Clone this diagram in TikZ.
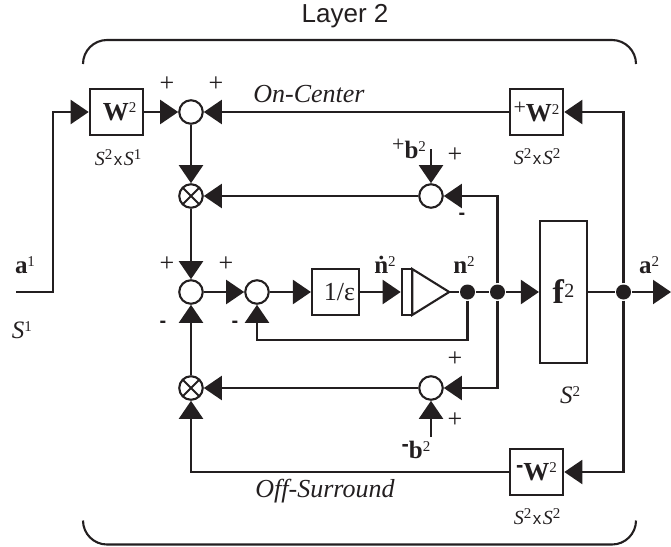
\documentclass[tikz,border=0pt]{standalone}
\usepackage{fontspec}
\setmainfont{Liberation Serif}
\setsansfont{Liberation Sans}
\usetikzlibrary{arrows.meta,shapes.geometric}
\definecolor{Ink}{HTML}{231F20}
\newcommand{\Sp}[1]{\raisebox{.3em}{\fontsize{15}{15}\selectfont #1}}
\newcommand{\Pre}[1]{\raisebox{.3em}{\fontsize{22}{22}\selectfont #1}}
\newcommand{\Dim}[2]{{\itshape S}\Sp{#1}\hspace{1.5pt}{\sffamily\fontsize{17}{17}\selectfont x}\hspace{1.5pt}{\itshape S}\Sp{#2}}
\begin{document}
\begin{tikzpicture}[x=1pt,y=-1pt,line width=2.1pt,draw=Ink,text=Ink,
    sumnode/.style={draw,circle,minimum size=23.5pt,inner sep=0pt},
    prodnode/.style={sumnode,path picture={\draw (path picture bounding box.north west) -- (path picture bounding box.south east) (path picture bounding box.north east) -- (path picture bounding box.south west);}},
    dotnode/.style={fill=Ink,circle,minimum size=15pt,inner sep=0pt},
    unit/.style={draw,minimum width=53.5pt,minimum height=46pt,inner sep=0pt,font=\fontsize{26}{28}\selectfont},
    arr/.style={-{Triangle[length=18pt,width=24pt]}},
    lab/.style={inner sep=0pt,font=\fontsize{25}{28}\selectfont},
    dimlab/.style={inner sep=0pt,font=\fontsize{20}{24}\selectfont},
    sign/.style={inner sep=0pt,font=\fontsize{26}{28}\selectfont},
    minus/.style={inner sep=0pt,font=\sffamily\bfseries\fontsize{20}{24}\selectfont}
  ]
    \useasboundingbox (0,0) rectangle (671,546);
    % boxes
    \node[unit] (w1) at (116.5,112) {\hspace{6pt}\textbf{W}\Sp{2}};
    \node[unit] (wp) at (536.5,112) {\Pre{+}\textbf{W}\Sp{2}};
    \node[unit] (wm) at (536.5,472) {\Pre{\sffamily\bfseries-}\textbf{W}\Sp{2}};
    \node[unit,minimum width=47pt] (eps) at (335.5,292) {\hspace{8pt}1/ε};
    \node[unit,minimum width=47pt,minimum height=142pt,font=\fontsize{34}{36}\selectfont] (f2) at (563.5,292) {\textbf{f}\raisebox{.2em}{\fontsize{20}{20}\selectfont 2}\hspace{3pt}};
    \node[draw,minimum width=10.5pt,minimum height=46pt,inner sep=0pt] (amp) at (407,292) {};
    \node[draw,isosceles triangle,isosceles triangle stretches,minimum width=46pt,minimum height=37pt,inner sep=0pt,outer sep=0pt,anchor=lower side] (tri) at (412.2,292) {};
    % junctions
    \node[sumnode] (sum1) at (191,112) {};
    \node[prodnode] (prod1) at (191,196) {};
    \node[sumnode] (sum2) at (191,292) {};
    \node[sumnode] (sum3) at (257,292) {};
    \node[prodnode] (prod2) at (191,388) {};
    \node[sumnode] (sumb) at (431,196) {};
    \node[sumnode] (sumc) at (431,388) {};
    \node[dotnode] (dotn) at (467.5,292) {};
    \node[dotnode] (dotm) at (497.5,292) {};
    \node[dotnode] (dota) at (623.5,292) {};
    \coordinate (ain) at (16,292);
    \coordinate (ainb) at (53,112);
    \coordinate (aout) at (671,292);
    \coordinate (fbk) at (257,340);
    \coordinate (bp) at (431,149);
    \coordinate (bm) at (431,437);
    % connectors
    \draw[arr] (ain) -| (ainb) -- (w1);
    \draw[arr] (w1) -- (sum1);
    \draw[arr] (wp) -- (sum1);
    \draw[arr] (sum1) -- (prod1);
    \draw[arr] (prod1) -- (sum2);
    \draw[arr] (prod2) -- (sum2);
    \draw[arr] (sum2) -- (sum3);
    \draw[arr] (sum3) -- (eps);
    \draw[arr] (eps) -- (amp);
    \draw (tri.apex) -- (dotn) -- (dotm);
    \draw[arr] (dotm) -- (f2);
    \draw (f2) -- (dota);
    \draw[arr] (dota) -- (aout);
    \draw[arr] (dotn) |- (fbk) -- (sum3);
    \draw[arr] (dotm) |- (sumb);
    \draw[arr] (dotm) |- (sumc);
    \draw[arr] (dota) |- (wp);
    \draw[arr] (dota) |- (wm);
    \draw[arr] (wm) -| (prod2);
    \draw[arr] (sumb) -- (prod1);
    \draw[arr] (sumc) -- (prod2);
    \draw[arr] (bp) -- (sumb);
    \draw[arr] (bm) -- (sumc);
    % brackets
    \draw[rounded corners=24pt] (83,64) -- (83,40) -- (636,40) -- (636,64);
    \draw[rounded corners=24pt] (83,520.5) -- (83,544.5) -- (636,544.5) -- (636,520.5);
    % labels
    \node[lab,font=\sffamily\fontsize{26}{28}\selectfont] (title) at (345,16) {Layer 2};
    \node[lab,font=\itshape\fontsize{26}{28}\selectfont] (onc) at (309,94) {On-Center};
    \node[lab,font=\itshape\fontsize{26}{28}\selectfont] (offs) at (325,491) {Off-Surround};
    \node[dimlab] (dw1) at (118,158) {\Dim{2}{1}};
    \node[dimlab] (dwp) at (537,157) {\Dim{2}{2}};
    \node[dimlab] (dwm) at (537,517) {\Dim{2}{2}};
    \node[lab] (a1) at (25,265) {\textbf{a}\Sp{1}};
    \node[lab] (a2) at (649,265) {\textbf{a}\Sp{2}};
    \node[lab] (n2) at (464,265) {\textbf{n}\Sp{2}};
    \node[lab] (nd) at (385,265) {\textbf{\.n}\Sp{2}};
    \node[lab] (bpl) at (409,149) {\Pre{+}\textbf{b}\Sp{2}};
    \node[lab] (bml) at (416,450) {\Pre{\sffamily\bfseries-}\textbf{b}\Sp{2}};
    \node[lab] (s1) at (22,330) {\itshape S\Sp{\upshape 1}};
    \node[lab] (s2) at (570,395) {\itshape S\Sp{\upshape 2}};
    \node[sign] (p1) at (167,84) {+};
    \node[sign] (p2) at (216,84) {+};
    \node[sign] (p3) at (167,264) {+};
    \node[sign] (p4) at (226,264) {+};
    \node[sign] (p5) at (455,155) {+};
    \node[sign] (p6) at (455,359) {+};
    \node[sign] (p7) at (455,420) {+};
    \node[minus] (m1) at (163,324) {-};
    \node[minus] (m2) at (235,324) {-};
    \node[minus] (m3) at (462,216) {-};
\end{tikzpicture}
\end{document}
